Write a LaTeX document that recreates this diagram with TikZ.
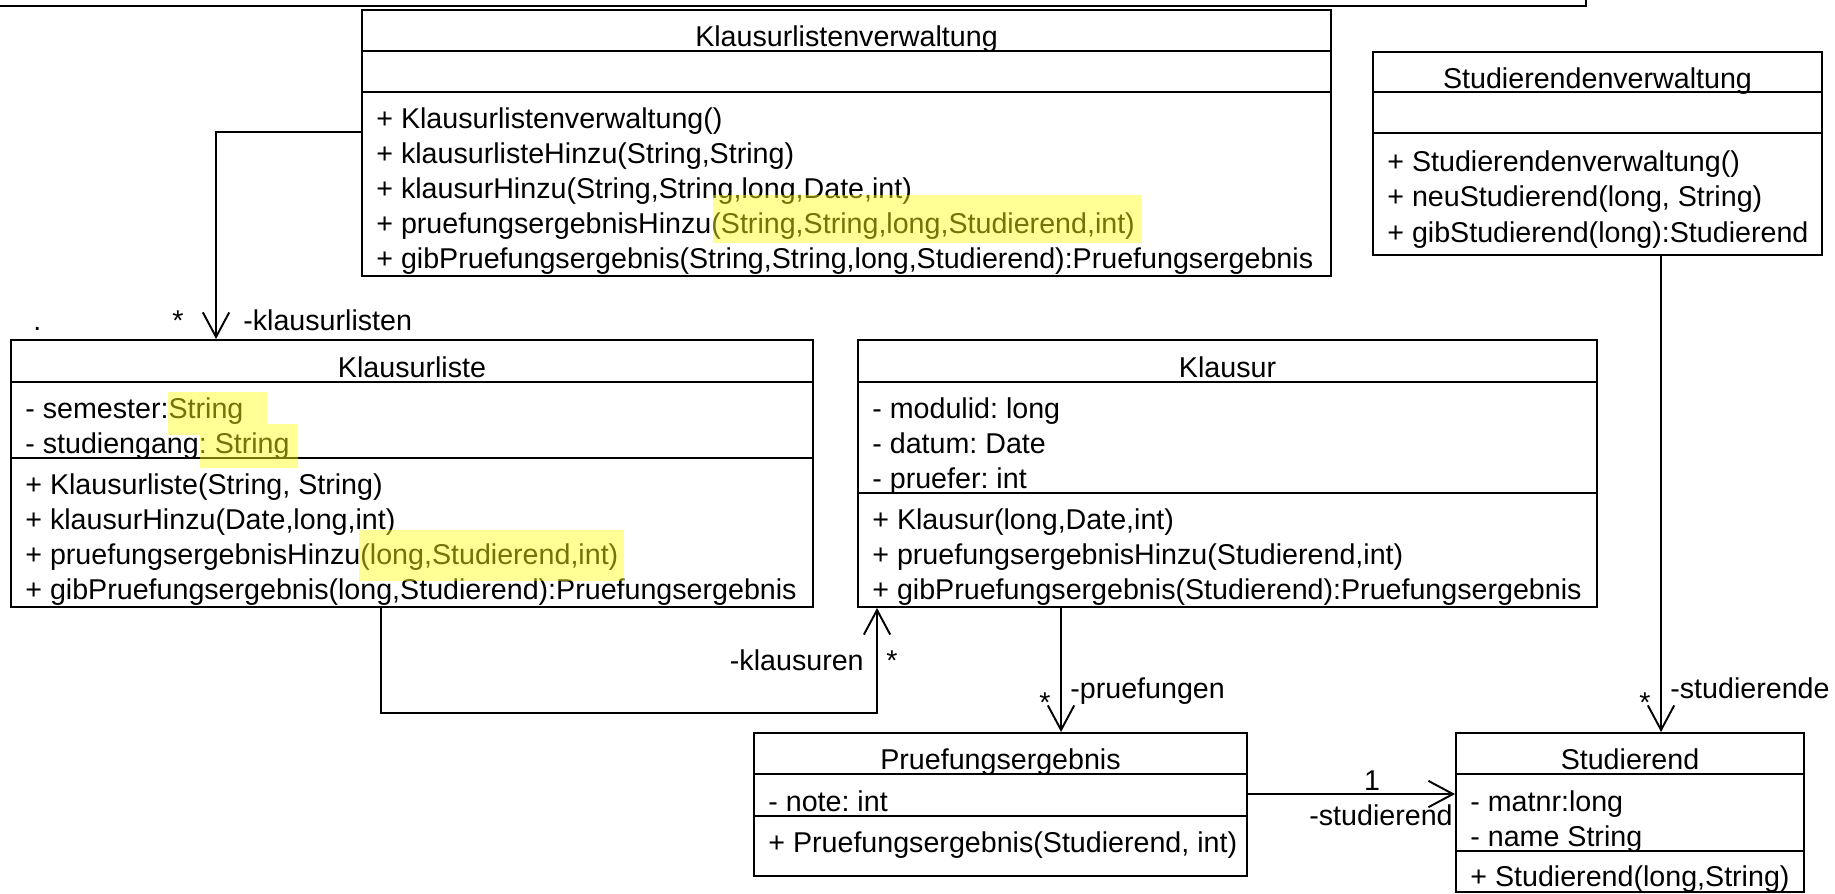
\documentclass[tikz,border=0pt]{standalone}
\usepackage{fontspec}
\setmainfont{Liberation Sans}
\usepackage{tikz}
\usetikzlibrary{arrows.meta,positioning,calc,fit}
\usepackage{xcolor}
\definecolor{hlyellow}{RGB}{255,255,20}
\frenchspacing
\newcommand{\umlfont}{\fontsize{16.3}{19}\selectfont}
\tikzset{
  % class box
  umlbox/.style={rectangle, draw, inner sep=0pt, line width=1.1pt},
  % compartment divider
  divider/.style={line width=1.1pt},
  % class name
  umltitle/.style={anchor=base, inner sep=0pt, font=\umlfont},
  % attribute / operation line
  member/.style={anchor=base west, inner sep=0pt, font=\umlfont},
  % role name or multiplicity
  rolelabel/.style={anchor=base west, inner sep=0pt, font=\umlfont},
  % navigable association
  assoc/.style={-{Straight Barb[length=14pt,width=15pt]}, line width=1.1pt},
  % marker highlight
  marker/.style={fill=hlyellow, fill opacity=0.45},
}

\begin{document}
\begin{tikzpicture}[x=0.02cm, y=-0.02cm]
  \useasboundingbox (0,0) rectangle (1835,893);

  % frame corner at the top
  \draw[divider] (0,6) -- (1586,6) -- (1586,0);

  % Klausurlistenverwaltung
  \node[umlbox, fit={(362,10) (1331,276)}] (klv) {};
  \node[umltitle] (klv-name) at (846.5,46) {Klausurlistenverwaltung};
  \draw[divider] (klv.west |- 0,51) -- (klv.east |- 0,51);
  \draw[divider] (klv.west |- 0,92) -- (klv.east |- 0,92);
  \node[member] (klv-m1) at (376,128) {+ Klausurlistenverwaltung()};
  \node[member] (klv-m2) at (376,163) {+ klausurlisteHinzu(String,String)};
  \node[member] (klv-m3) at (376,198) {+ klausurHinzu(String,String,long,Date,int)};
  \node[member] (klv-m4) at (376,233) {+ pruefungsergebnisHinzu(String,String,long,Studierend,int)};
  \node[member] (klv-m5) at (376,268) {+ gibPruefungsergebnis(String,String,long,Studierend):Pruefungsergebnis};

  % Studierendenverwaltung
  \node[umlbox, fit={(1373,52) (1822,255)}] (sv) {};
  \node[umltitle] (sv-name) at (1597.5,88) {Studierendenverwaltung};
  \draw[divider] (sv.west |- 0,92) -- (sv.east |- 0,92);
  \draw[divider] (sv.west |- 0,133) -- (sv.east |- 0,133);
  \node[member] (sv-m1) at (1387,171) {+ Studierendenverwaltung()};
  \node[member] (sv-m2) at (1387,206) {+ neuStudierend(long, String)};
  \node[member] (sv-m3) at (1387,242) {+ gibStudierend(long):Studierend};

  % Klausurliste
  \node[umlbox, fit={(11,340) (813,607)}] (kl) {};
  \node[umltitle] (kl-name) at (412,377) {Klausurliste};
  \draw[divider] (kl.west |- 0,382) -- (kl.east |- 0,382);
  \draw[divider] (kl.west |- 0,458) -- (kl.east |- 0,458);
  \node[member] (kl-a1) at (25,418) {- semester:String};
  \node[member] (kl-a2) at (25,453) {- studiengang: String};
  \node[member] (kl-m1) at (25,494) {+ Klausurliste(String, String)};
  \node[member] (kl-m2) at (25,529) {+ klausurHinzu(Date,long,int)};
  \node[member] (kl-m3) at (25,564) {+ pruefungsergebnisHinzu(long,Studierend,int)};
  \node[member] (kl-m4) at (25,599) {+ gibPruefungsergebnis(long,Studierend):Pruefungsergebnis};

  % Klausur
  \node[umlbox, fit={(858,340) (1597,607)}] (k) {};
  \node[umltitle] (k-name) at (1227.5,377) {Klausur};
  \draw[divider] (k.west |- 0,382) -- (k.east |- 0,382);
  \draw[divider] (k.west |- 0,493) -- (k.east |- 0,493);
  \node[member] (k-a1) at (872,418) {- modulid: long};
  \node[member] (k-a2) at (872,453) {- datum: Date};
  \node[member] (k-a3) at (872,488) {- pruefer: int};
  \node[member] (k-m1) at (872,529) {+ Klausur(long,Date,int)};
  \node[member] (k-m2) at (872,564) {+ pruefungsergebnisHinzu(Studierend,int)};
  \node[member] (k-m3) at (872,599) {+ gibPruefungsergebnis(Studierend):Pruefungsergebnis};

  % Pruefungsergebnis
  \node[umlbox, fit={(754,733) (1247,876)}] (pe) {};
  \node[umltitle] (pe-name) at (1000.5,769) {Pruefungsergebnis};
  \draw[divider] (pe.west |- 0,774) -- (pe.east |- 0,774);
  \draw[divider] (pe.west |- 0,816) -- (pe.east |- 0,816);
  \node[member] (pe-a1) at (768,811) {- note: int};
  \node[member] (pe-m1) at (768,852) {+ Pruefungsergebnis(Studierend, int)};

  % Studierend
  \node[umlbox, fit={(1456,733) (1804,892)}] (s) {};
  \node[umltitle] (s-name) at (1630,769) {Studierend};
  \draw[divider] (s.west |- 0,774) -- (s.east |- 0,774);
  \draw[divider] (s.west |- 0,851) -- (s.east |- 0,851);
  \node[member] (s-a1) at (1470,811) {- matnr:long};
  \node[member] (s-a2) at (1470,846) {- name String};
  \node[member] (s-m1) at (1470,886) {+ Studierend(long,String)};

  % associations
  \draw[assoc] ($(klv.north west)+(0,123)$) -| ($(kl.north west)+(206,0)$);
  \node[rolelabel] (dot) at (33,330) {.};
  \node[rolelabel] (kl-mult) at (172,330) {*};
  \node[rolelabel] (kl-role) at (243,330) {-klausurlisten};

  \draw[assoc] ($(kl.south west)+(371,0)$) |- ($(k.south west)+(20,105)$) -- ($(k.south west)+(20,0)$);
  \node[rolelabel, anchor=base east] (k-role) at (864,670) {-klausuren};
  \node[rolelabel] (k-mult) at (886,670) {*};

  \draw[assoc] ($(k.south west)+(204,0)$) -- ($(pe.north west)+(308,0)$);
  \node[rolelabel] (pe-mult) at (1039,712) {*};
  \node[rolelabel] (pe-role) at (1070,698) {-pruefungen};

  \draw[assoc] ($(sv.south west)+(289,0)$) -- ($(s.north west)+(206,0)$);
  \node[rolelabel] (s-mult) at (1639,712) {*};
  \node[rolelabel] (s-role) at (1670,698) {-studierende};

  \draw[assoc] ($(pe.north east)+(0,62)$) -- ($(s.north west)+(0,62)$);
  \node[rolelabel, anchor=base] (st-mult) at (1372,790) {1};
  \node[rolelabel, anchor=base east] (st-role) at (1453,825) {-studierend};

  % highlights
  \fill[marker] (713,195) rectangle (1142,243);
  \fill[marker] (168,392) rectangle (267,435) (200,424) rectangle (298,468);
  \fill[marker] (359,530) rectangle (624,581);
\end{tikzpicture}
\end{document}
